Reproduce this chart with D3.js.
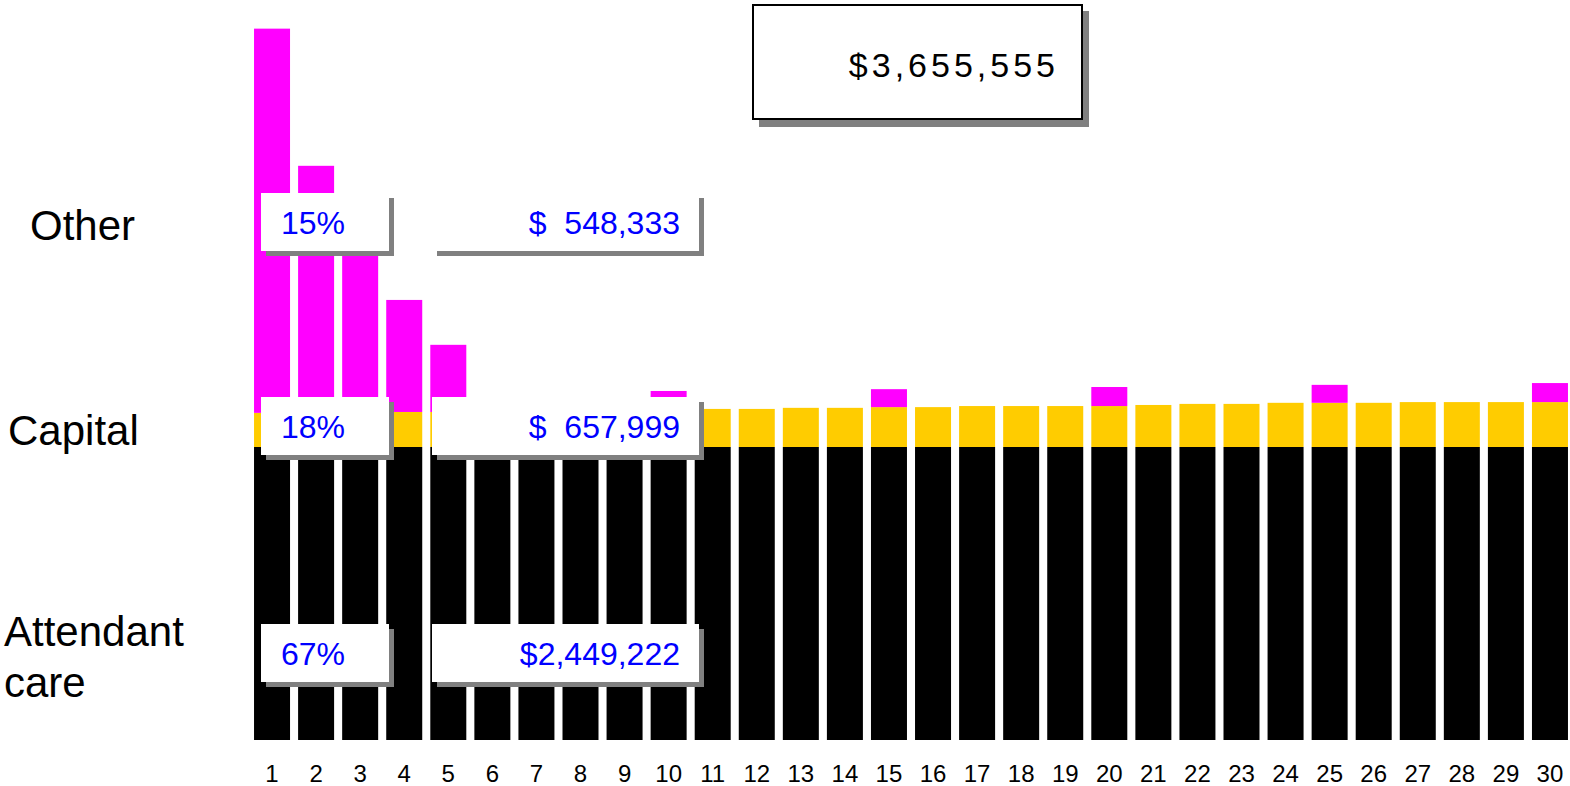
<!DOCTYPE html>
<html>
<head>
<meta charset="utf-8">
<script src="https://cdn.jsdelivr.net/npm/d3@7"></script>
<style>
  body { margin: 0; background: #fff; }
  text { font-family: "Liberation Sans", Arial, sans-serif; }
</style>
</head>
<body>
<script>
const width = 1570,
  height = 786;

// yearly costs, $ thousands
const years = ['1', '2', '3', '4', '5', '6', '7', '8', '9', '10',
  '11', '12', '13', '14', '15', '16', '17', '18', '19', '20',
  '21', '22', '23', '24', '25', '26', '27', '28', '29', '30'];

const attendant = [81.6, 81.6, 81.6, 81.6, 81.6, 81.6, 81.6, 81.6, 81.6, 81.6,
  81.6, 81.6, 81.6, 81.6, 81.6, 81.6, 81.6, 81.6, 81.6, 81.6,
  81.6, 81.6, 81.6, 81.6, 81.6, 81.6, 81.6, 81.6, 81.6, 81.6];

const capital = [9.5, 9.5, 9.5, 9.75, 9.75, 10.0, 10.0, 10.0, 10.2, 10.3,
  10.6, 10.6, 10.9, 10.9, 11.1, 11.1, 11.4, 11.4, 11.4, 11.4,
  11.7, 12.0, 12.0, 12.3, 12.3, 12.3, 12.5, 12.5, 12.5, 12.5];

const other = [107.0, 68.8, 51.5, 31.2, 18.7, 0, 0, 0, 0, 5.3,
  0, 0, 0, 0, 5.0, 0, 0, 0, 0, 5.3,
  0, 0, 0, 0, 5.0, 0, 0, 0, 0, 5.3];

const seriesKeys = ['attendant', 'capital', 'other'];
const seriesColors = ['#000000', '#ffcc00', '#ff00ff'];

// left labels, shares and totals (bottom to top)
const seriesLabels = [['Attendant', 'care'], ['Capital'], ['Other']];
const shares = ['67%', '18%', '15%'];
const totals = ['$2,449,222', '$  657,999', '$  548,333'];
const grandTotal = '$3,655,555';

const data = years.map((yr, i) => ({
  year: yr,
  attendant: attendant[i],
  capital: capital[i],
  other: other[i]
}));

const stack = d3.stack().keys(seriesKeys);
const series = stack(data);

const x = d3.scaleBand()
  .domain(years)
  .range([250, 1572])
  .paddingInner(0.183)
  .paddingOuter(0.0915);

const y = d3.scaleLinear()
  .domain([0, 198])
  .range([740, 29]);

const color = d3.scaleOrdinal()
  .domain(seriesKeys)
  .range(seriesColors);

const svg = d3.select('body').append('svg')
  .attr('width', width)
  .attr('height', height);

svg.append('g')
  .selectAll('g')
  .data(series)
  .enter().append('g')
  .attr('fill', d => color(d.key))
  .selectAll('rect')
  .data(d => d.filter(p => p[1] > p[0]))
  .enter().append('rect')
  .attr('x', d => x(d.data.year))
  .attr('y', d => y(d[1]))
  .attr('width', x.bandwidth())
  .attr('height', d => y(d[0]) - y(d[1]));

// year labels
svg.append('g')
  .selectAll('text')
  .data(years)
  .enter().append('text')
  .attr('x', d => x(d) + x.bandwidth() / 2)
  .attr('y', 782)
  .attr('text-anchor', 'middle')
  .attr('font-size', 24)
  .attr('fill', '#000')
  .text(d => d);

// annotation rows: box centres, bottom to top
const rowCentres = [653, 426, 222];

const boxes = svg.append('g');

function shadowBox(bx, by, bw, bh) {
  boxes.append('rect')
    .attr('x', bx + 5).attr('y', by + 5)
    .attr('width', bw).attr('height', bh)
    .attr('fill', '#808080');
  boxes.append('rect')
    .attr('x', bx).attr('y', by)
    .attr('width', bw).attr('height', bh)
    .attr('fill', '#fff');
}

rowCentres.forEach((cy, i) => {
  shadowBox(261, cy - 29, 128, 58);
  shadowBox(432, cy - 29, 267, 58);

  boxes.append('text')
    .attr('x', 281)
    .attr('y', cy + 12)
    .attr('font-size', 32)
    .attr('fill', '#0000ff')
    .text(shares[i]);

  boxes.append('text')
    .attr('x', 680)
    .attr('y', cy + 12)
    .attr('font-size', 32)
    .attr('fill', '#0000ff')
    .attr('text-anchor', 'end')
    .style('white-space', 'pre')
    .text(totals[i]);
});

// left series labels
const labelY = [646, 445, 240];
const labelX = [4, 8, 30];
seriesLabels.forEach((lines, i) => {
  const t = svg.append('text')
    .attr('x', labelX[i])
    .attr('y', labelY[i])
    .attr('font-size', 42)
    .attr('fill', '#000');
  lines.forEach((ln, j) => {
    t.append('tspan')
      .attr('x', labelX[i])
      .attr('dy', j === 0 ? 0 : 51)
      .text(ln);
  });
});

// grand total box
svg.append('rect')
  .attr('x', 759).attr('y', 11)
  .attr('width', 330).attr('height', 116)
  .attr('fill', '#808080');
svg.append('rect')
  .attr('x', 753).attr('y', 5)
  .attr('width', 329).attr('height', 114)
  .attr('fill', '#fff')
  .attr('stroke', '#000')
  .attr('stroke-width', 2);
svg.append('text')
  .attr('x', 1059)
  .attr('y', 77)
  .attr('text-anchor', 'end')
  .attr('font-size', 34)
  .attr('letter-spacing', 4)
  .attr('fill', '#000')
  .text(grandTotal);
</script>
</body>
</html>
